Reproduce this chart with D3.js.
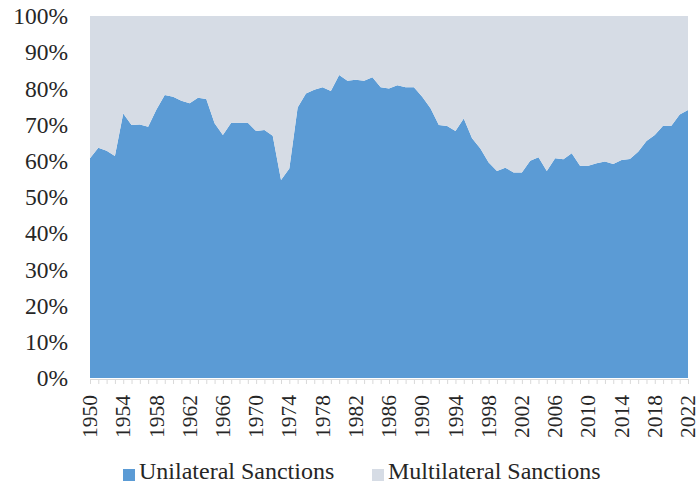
<!DOCTYPE html>
<html>
<head>
<meta charset="utf-8">
<script src="https://cdn.jsdelivr.net/npm/d3@7"></script>
<style>
  body { margin: 0; background: #fff; }
</style>
</head>
<body>
<div id="chart"></div>
<script>
// years 1950-2022, share of unilateral sanctions (%)
var years = d3.range(1950, 2023);
var unilateral = [
  60.7, 63.6, 62.8, 61.3, 73.1, 69.9, 70.0, 69.4, 74.2, 78.2,
  77.7, 76.6, 75.9, 77.4, 77.1, 70.4, 67.1, 70.5, 70.5, 70.5,
  68.2, 68.5, 66.9, 54.7, 57.9, 74.7, 78.6, 79.6, 80.3, 79.3,
  83.7, 82.1, 82.4, 82.1, 83.1, 80.3, 80.0, 80.9, 80.3, 80.3,
  77.7, 74.5, 69.9, 69.6, 68.2, 71.7, 66.2, 63.4, 59.5, 57.2,
  58.1, 56.8, 56.8, 60.0, 61.0, 57.2, 60.7, 60.4, 62.1, 58.6,
  58.6, 59.3, 59.8, 59.1, 60.2, 60.5, 62.5, 65.5, 67.1, 69.7,
  69.7, 72.8, 74.0
];
var yTicks = [0, 10, 20, 30, 40, 50, 60, 70, 80, 90, 100];
var seriesNames = ["Unilateral Sanctions", "Multilateral Sanctions"];
var colors = ["#5b9bd5", "#d6dce5"];
var font = "Liberation Serif";

var data = years.map(function(y, i) {
  return { year: y, uni: unilateral[i], multi: 100 - unilateral[i] };
});

var margin = {top: 16, right: 10, bottom: 109, left: 90},
    width = 698 - margin.left - margin.right,
    height = 487 - margin.top - margin.bottom;

var svg = d3.select("#chart")
  .append("svg")
    .attr("width", 698)
    .attr("height", 487)
  .append("g")
    .attr("transform", "translate(" + margin.left + "," + margin.top + ")");

var x = d3.scaleLinear().domain([1950, 2022]).range([0, width]);
var y = d3.scaleLinear().domain([0, 100]).range([height, 0]);

var stack = d3.stack().keys(["uni", "multi"]);
var layers = stack(data);

var area = d3.area()
  .x(function(d) { return x(d.data.year); })
  .y0(function(d) { return y(d[0]); })
  .y1(function(d) { return y(d[1]); });

svg.selectAll(".layer")
  .data(layers)
  .enter().append("path")
    .attr("class", "layer")
    .attr("d", area)
    .attr("fill", function(d, i) { return colors[i]; });

// y axis labels
svg.selectAll(".ylab")
  .data(yTicks)
  .enter().append("text")
    .attr("class", "ylab")
    .attr("x", -22)
    .attr("y", function(d) { return y(d); })
    .attr("dy", "0.35em")
    .attr("text-anchor", "end")
    .attr("font-family", font)
    .attr("font-size", 23.5)
    .attr("fill", "#262626")
    .text(function(d) { return d + "%"; });

// x axis with a tick each year
var xAxis = svg.append("g")
  .attr("transform", "translate(0," + (height + 1) + ")")
  .call(d3.axisBottom(x).tickValues(years).tickSize(5).tickFormat(""));
xAxis.select(".domain").attr("stroke", "#d9d9d9");
xAxis.selectAll(".tick line").attr("stroke", "#d9d9d9");

svg.selectAll(".xlab")
  .data(years.filter(function(d) { return (d - 1950) % 4 === 0; }))
  .enter().append("text")
    .attr("class", "xlab")
    .attr("transform", function(d) { return "translate(" + x(d) + "," + (height + 17) + ") rotate(-90)"; })
    .attr("dy", "0.33em")
    .attr("text-anchor", "end")
    .attr("font-family", font)
    .attr("font-size", 21.5)
    .attr("fill", "#262626")
    .text(function(d) { return d; });

// legend
var legendX = [33, 282];
var legend = svg.selectAll(".legend")
  .data(seriesNames)
  .enter().append("g")
    .attr("class", "legend")
    .attr("transform", function(d, i) { return "translate(" + legendX[i] + "," + (height + 101) + ")"; });
legend.append("rect")
  .attr("x", 0).attr("y", -10)
  .attr("width", 12).attr("height", 12)
  .attr("fill", function(d, i) { return colors[i]; });
legend.append("text")
  .attr("x", 16)
  .attr("y", 0)
  .attr("font-family", font)
  .attr("font-size", 24)
  .attr("fill", "#262626")
  .text(function(d) { return d; });
</script>
</body>
</html>
